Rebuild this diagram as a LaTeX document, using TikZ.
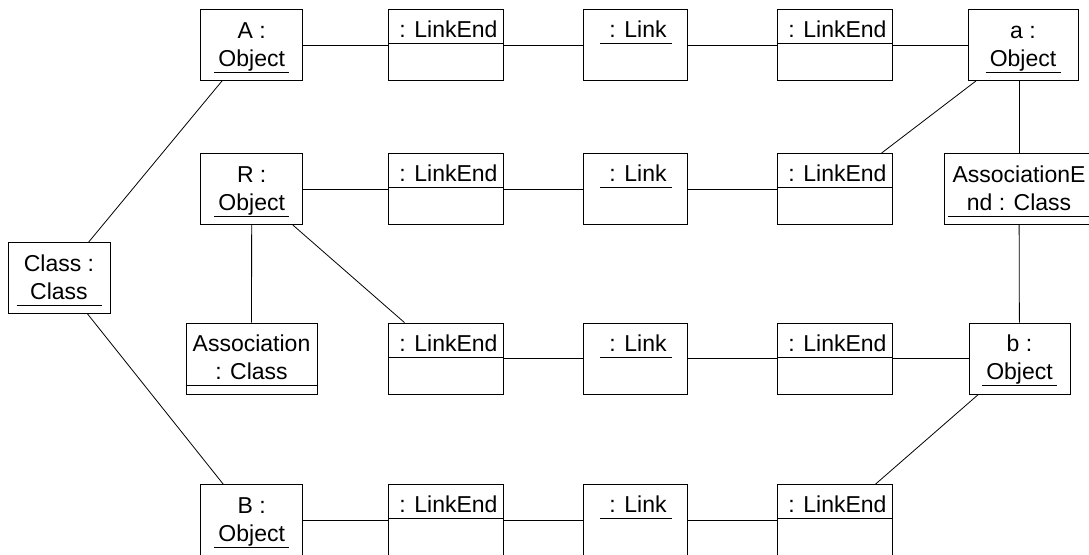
\documentclass[tikz,border=0pt]{standalone}
\usepackage{fontspec}
\setmainfont{Liberation Sans}
\newcommand{\hiline}{\rule{0pt}{22pt}}
\newcommand{\loline}{\rule[-8pt]{0pt}{8pt}}
\begin{document}
\begin{tikzpicture}
[
x=1pt, y=-1pt, line width=0.8pt,
box/.style={rectangle, draw=black, inner sep=0pt, minimum height=71pt, font=\fontsize{23}{28}\selectfont},
obj/.style={box, align=center, minimum width=102pt},
uline/.style={path picture={\draw ([xshift=-#1,yshift=-62.5pt]path picture bounding box.north) -- ([xshift=#1,yshift=-62.5pt]path picture bounding box.north);}},
endbox/.style={box, minimum width=115pt, text height=20pt, text depth=35pt, execute at begin node={\hspace*{6pt}},
  path picture={\draw ([yshift=-34pt]path picture bounding box.north west) -- ([yshift=-34pt]path picture bounding box.north east);}},
linkbox/.style={box, minimum width=104pt, text height=20pt, text depth=35pt, execute at begin node={\hspace*{6pt}},
  path picture={\draw ([xshift=-35pt,yshift=-34pt]path picture bounding box.north) -- ([xshift=37pt,yshift=-34pt]path picture bounding box.north);}}
]
\useasboundingbox (0,0) rectangle (1089,554);
\clip (0,0) rectangle (1089,554);

%Nodes
\node[obj, uline=42.5pt]                        (cls)      at (59,278)      {\hiline Class :\\Class\loline};
\node[obj, uline=37.5pt]                        (objA)     at (251.7,45)    {\hiline A :\\Object\loline};
\node[obj, uline=37.5pt]                        (objR)     at (251.7,189)   {\hiline R :\\Object\loline};
\node[obj, uline=37.5pt]                        (objB)     at (251.7,520)   {\hiline B :\\Object\loline};
\node[obj, minimum width=131pt, uline=67pt]     (assoc)    at (251.5,358.5) {\hiline Association\\: Class\loline};

\node[endbox]   (leA)   at (445.5,45)  {: LinkEnd};
\node[linkbox]  (lkA)   at (635,45)    {: Link};
\node[endbox]   (leA2)  at (834.5,45)  {: LinkEnd};
\node[obj, minimum width=110pt, uline=37.5pt]   (obja)     at (1023,45)     {\hiline a :\\Object\loline};

\node[endbox]   (leR)   at (445.5,189) {: LinkEnd};
\node[linkbox]  (lkR)   at (635,189)   {: Link};
\node[endbox]   (leR2)  at (834.5,189) {: LinkEnd};
\node[obj, minimum width=150pt, uline=71pt]     (assocEnd) at (1019,189)    {\hiline AssociationE\\nd : Class\loline};

\node[endbox]   (leS)   at (445.5,358.5) {: LinkEnd};
\node[linkbox]  (lkS)   at (635,358.5)   {: Link};
\node[endbox]   (leS2)  at (834.5,358.5) {: LinkEnd};
\node[obj, minimum width=101pt, uline=37.5pt]   (objb)     at (1019.5,358.5) {\hiline b :\\Object\loline};

\node[endbox]   (leB)   at (445.5,520) {: LinkEnd};
\node[linkbox]  (lkB)   at (635,520)   {: Link};
\node[endbox]   (leB2)  at (834.5,520) {: LinkEnd};

%Lines
\path
(cls)   edge (objA)
(cls)   edge (objB)
(objA)  edge (leA)
(leA)   edge (lkA)
(lkA)   edge (leA2)
(leA2)  edge (obja)
(obja)  edge (leR2)
(assocEnd.north) edge (assocEnd.north |- obja.south)
(assocEnd) edge (objb)
(objR)  edge (leR)
(leR)   edge (lkR)
(lkR)   edge (leR2)
(objR)  edge (assoc)
(objR)  edge (leS)
(leS)   edge (lkS)
(lkS)   edge (leS2)
(leS2)  edge (objb)
(objb)  edge (leB2)
(objB)  edge (leB)
(leB)   edge (lkB)
(lkB)   edge (leB2);
\end{tikzpicture}
\end{document}
